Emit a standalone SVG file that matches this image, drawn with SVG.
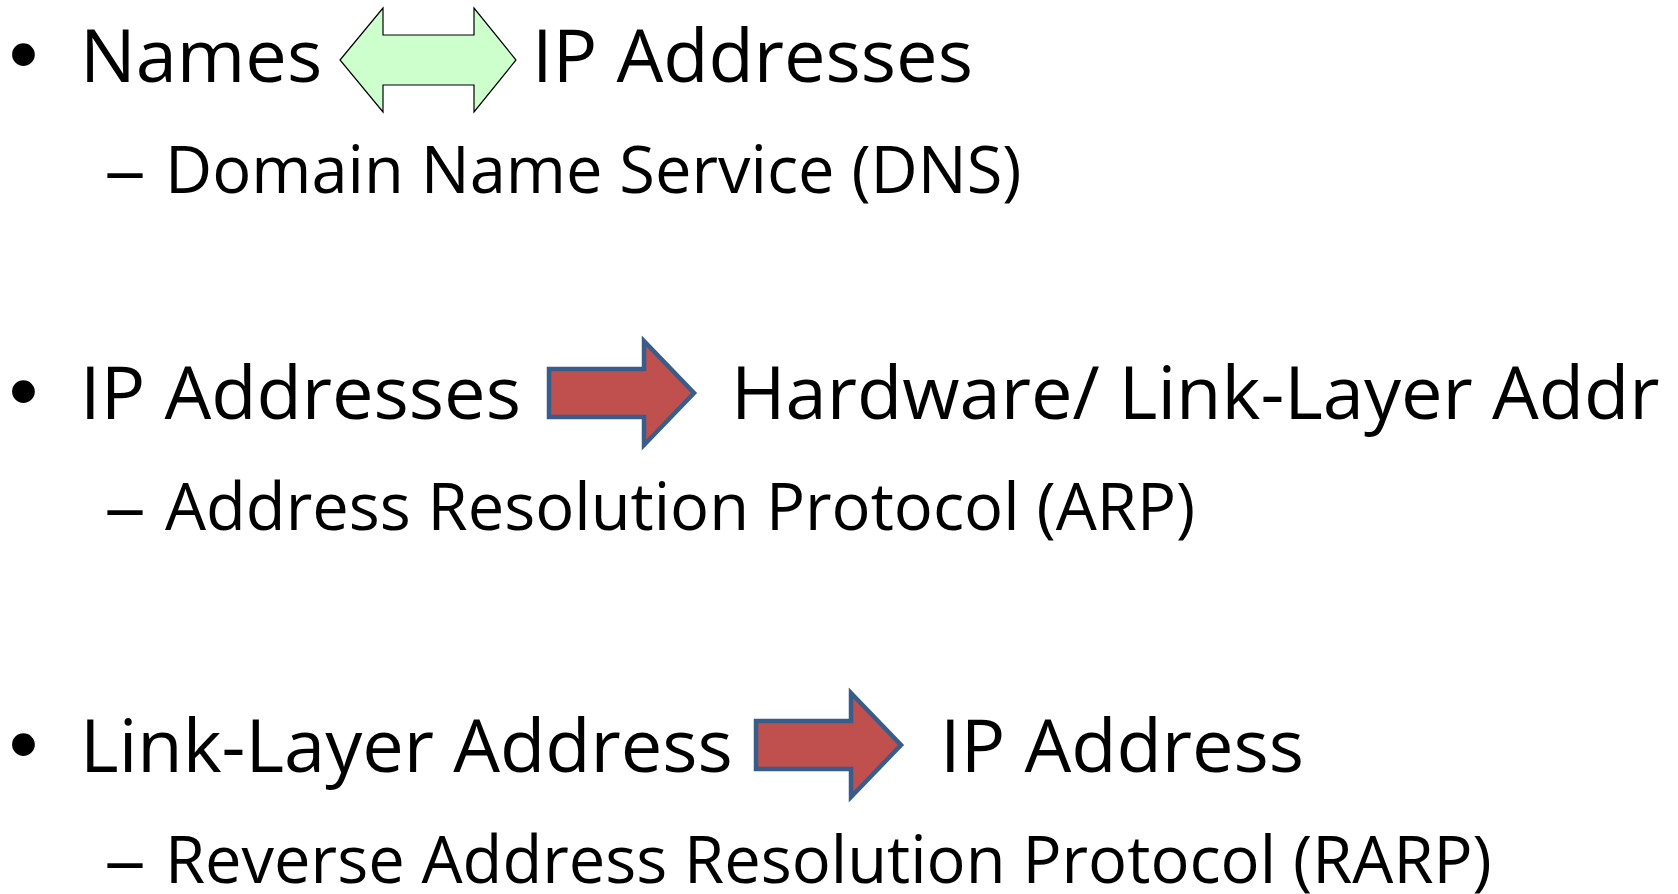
<svg xmlns="http://www.w3.org/2000/svg" xmlns:xlink="http://www.w3.org/1999/xlink" width="1678" height="894" viewBox="0 0 1678 894">
  <style>
    .main { font-family: "Open Sans", "Liberation Sans", sans-serif; font-size: 74px; fill: #000; }
    .sub { font-family: "Open Sans", "Liberation Sans", sans-serif; font-size: 65px; fill: #000; }
    .bullet { font-family: "Liberation Sans", Arial, sans-serif; font-size: 84px; fill: #000; text-anchor: middle; }
    .both-way { fill: #ccffcc; stroke: #000; stroke-width: 1.2; stroke-linejoin: miter; }
    .one-way { fill: #c0504d; stroke: #385d8a; stroke-width: 4.5; stroke-linejoin: miter; }
  </style>
  <defs>
    <!-- block arrow, origin at the middle of the tail -->
    <path id="block-arrow" d="M0,-24 L95,-24 L95,-52 L145,0 L95,52 L95,24 L0,24 Z"/>
  </defs>
  <rect width="1678" height="894" fill="#fff"/>

  <!-- item 1: name resolution -->
  <g id="item-dns">
    <text class="bullet" x="23.5" y="82">•</text>
    <text class="main" x="80" y="82">Names</text>
    <text class="main" x="532" y="82">IP Addresses</text>
    <text class="sub" x="104" y="193" textLength="42" lengthAdjust="spacingAndGlyphs">–</text>
    <text class="sub" x="165" y="193">Domain Name Service (DNS)</text>
  </g>

  <!-- item 2: address resolution -->
  <g id="item-arp">
    <text class="bullet" x="23.5" y="419">•</text>
    <text class="main" x="80" y="419">IP Addresses</text>
    <text class="main" x="731" y="419">Hardware/ Link-Layer Addr</text>
    <text class="sub" x="104" y="530" textLength="42" lengthAdjust="spacingAndGlyphs">–</text>
    <text class="sub" x="165" y="530">Address Resolution Protocol (ARP)</text>
  </g>

  <!-- item 3: reverse address resolution -->
  <g id="item-rarp">
    <text class="bullet" x="23.5" y="772">•</text>
    <text class="main" x="80" y="772">Link-Layer Address</text>
    <text class="main" x="940" y="772">IP Address</text>
    <text class="sub" x="104" y="883" textLength="42" lengthAdjust="spacingAndGlyphs">–</text>
    <text class="sub" x="165" y="883">Reverse Address Resolution Protocol (RARP)</text>
  </g>

  <!-- arrows between the terms -->
  <g id="connectors">
    <path class="both-way" d="M340,60 L383,8 L383,35 L474,35 L474,8 L516,60 L474,112 L474,85 L383,85 L383,112 Z"/>
    <use class="one-way" xlink:href="#block-arrow" href="#block-arrow" x="549" y="393"/>
    <use class="one-way" xlink:href="#block-arrow" href="#block-arrow" x="756" y="745"/>
  </g>
</svg>
